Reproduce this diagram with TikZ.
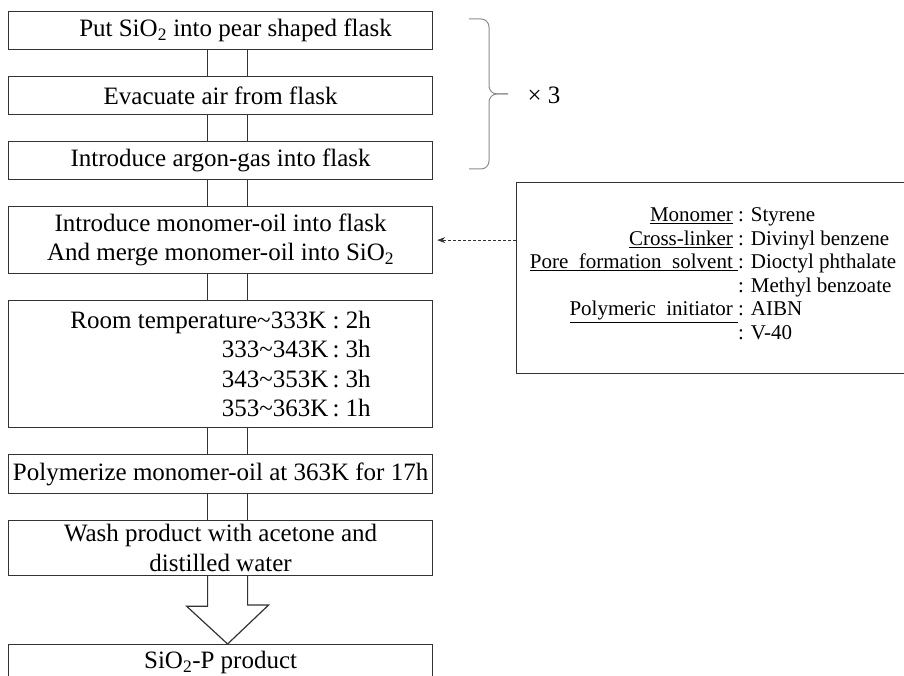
\documentclass[tikz,border=0pt]{standalone}
\usepackage{fontspec}
\setmainfont{Liberation Serif}
\usetikzlibrary{positioning, arrows.meta, calc}
\definecolor{FlowLine}{HTML}{333333}
\definecolor{BraceGray}{HTML}{8C8C8C}

\begin{document}
\begin{tikzpicture}[x=1pt, y=-1pt, node distance=25.8pt,
    stage/.style={draw=FlowLine, line width=1.2pt, minimum width=424pt,
                  inner xsep=2pt, inner ysep=0pt, align=center,
                  font=\fontsize{25}{29.5}\selectfont},
    pipe/.style={FlowLine, line width=1.2pt}]
  \useasboundingbox (0,0) rectangle (904,676);
  \node[stage, minimum height=38pt, anchor=north west] (s1) at (8,11)
    {\hspace*{30pt}Put SiO\textsubscript{2} into pear shaped flask};
  \node[stage, minimum height=38pt, below=of s1] (s2)
    {Evacuate air from flask};
  \node[stage, minimum height=38pt, below=of s2] (s3)
    {Introduce argon-gas into flask};
  \node[stage, minimum height=67pt, below=of s3] (s4)
    {Introduce monomer-oil into flask\\And merge monomer-oil into SiO\textsubscript{2}};
  \node[stage, minimum height=127pt, align=right, below=of s4] (s5)
    {Room temperature\textasciitilde333K : 2h\\
     333\textasciitilde343K\,:\ 3h\\
     343\textasciitilde353K\,:\ 3h\\
     353\textasciitilde363K\,:\ 1h};
  \node[stage, minimum height=39pt, below=of s5] (s6)
    {Polymerize monomer-oil at 363K for 17h};
  \node[stage, minimum height=55pt, below=of s6] (s7)
    {Wash product with acetone and\\distilled water};
  \node[stage, minimum height=36pt, below=67.8pt of s7] (s8)
    {SiO\textsubscript{2}-P product};

  % recipe box on the right
  \node[draw=FlowLine, line width=1.2pt, minimum width=420pt,
        minimum height=191pt, anchor=north west] (mix) at (516,182) {};
  \node[font=\fontsize{21}{23.5}\selectfont] (recipe) at (713,276)
    {\begin{tabular}{@{}r@{}l@{}}
       \underline{Monomer}\ \null & : Styrene\\
       \underline{Cross-linker}\ \null & : Divinyl benzene\\
       \underline{Pore\ \ formation\ \ solvent\ } & : Dioctyl phthalate\\
        & : Methyl benzoate\\
       \underline{Polymeric\ \ initiator\ } & : AIBN\\
        & : V-40
     \end{tabular}};
  \draw[FlowLine, line width=0.8pt, dash pattern=on 3pt off 2pt,
        -{Stealth[length=8pt, width=6pt]}] (mix.west |- s4.east) -- ([xshift=4pt]s4.east);

  % double-line links
  \draw[pipe] ([xshift=-13pt]s1.south) -- ([xshift=-13pt]s2.north)
              ([xshift=27pt]s1.south) -- ([xshift=27pt]s2.north);
  \draw[pipe] ([xshift=-13pt]s2.south) -- ([xshift=-13pt]s3.north)
              ([xshift=27pt]s2.south) -- ([xshift=27pt]s3.north);
  \draw[pipe] ([xshift=-13pt]s3.south) -- ([xshift=-13pt]s4.north)
              ([xshift=27pt]s3.south) -- ([xshift=27pt]s4.north);
  \draw[pipe] ([xshift=-13pt]s4.south) -- ([xshift=-13pt]s5.north)
              ([xshift=27pt]s4.south) -- ([xshift=27pt]s5.north);
  \draw[pipe] ([xshift=-13pt]s5.south) -- ([xshift=-13pt]s6.north)
              ([xshift=27pt]s5.south) -- ([xshift=27pt]s6.north);
  \draw[pipe] ([xshift=-13pt]s6.south) -- ([xshift=-13pt]s7.north)
              ([xshift=27pt]s6.south) -- ([xshift=27pt]s7.north);
  % hollow arrow to the product
  \draw[pipe, fill=white, line join=miter] ([xshift=-13pt]s7.south) -- ++(0,30) -- ++(-21,0)
    -- ([xshift=7pt]s8.north) -- ++(41,-39) -- ++(-21,0) -- ([xshift=27pt]s7.south);

  % repeat brace
  \draw[BraceGray, line width=1pt] (469,19) -- (481,19) to[out=0, in=90] (489,27)
    -- (489,86) to[out=-90, in=180] (497,94) -- (508,94);
  \draw[BraceGray, line width=1pt] (508,94) -- (497,94) to[out=180, in=90] (489,102)
    -- (489,161) to[out=-90, in=0] (481,169) -- (469,169);
  \node[font=\fontsize{25}{30}\selectfont] (times) at (544,95) {× 3};
\end{tikzpicture}
\end{document}
